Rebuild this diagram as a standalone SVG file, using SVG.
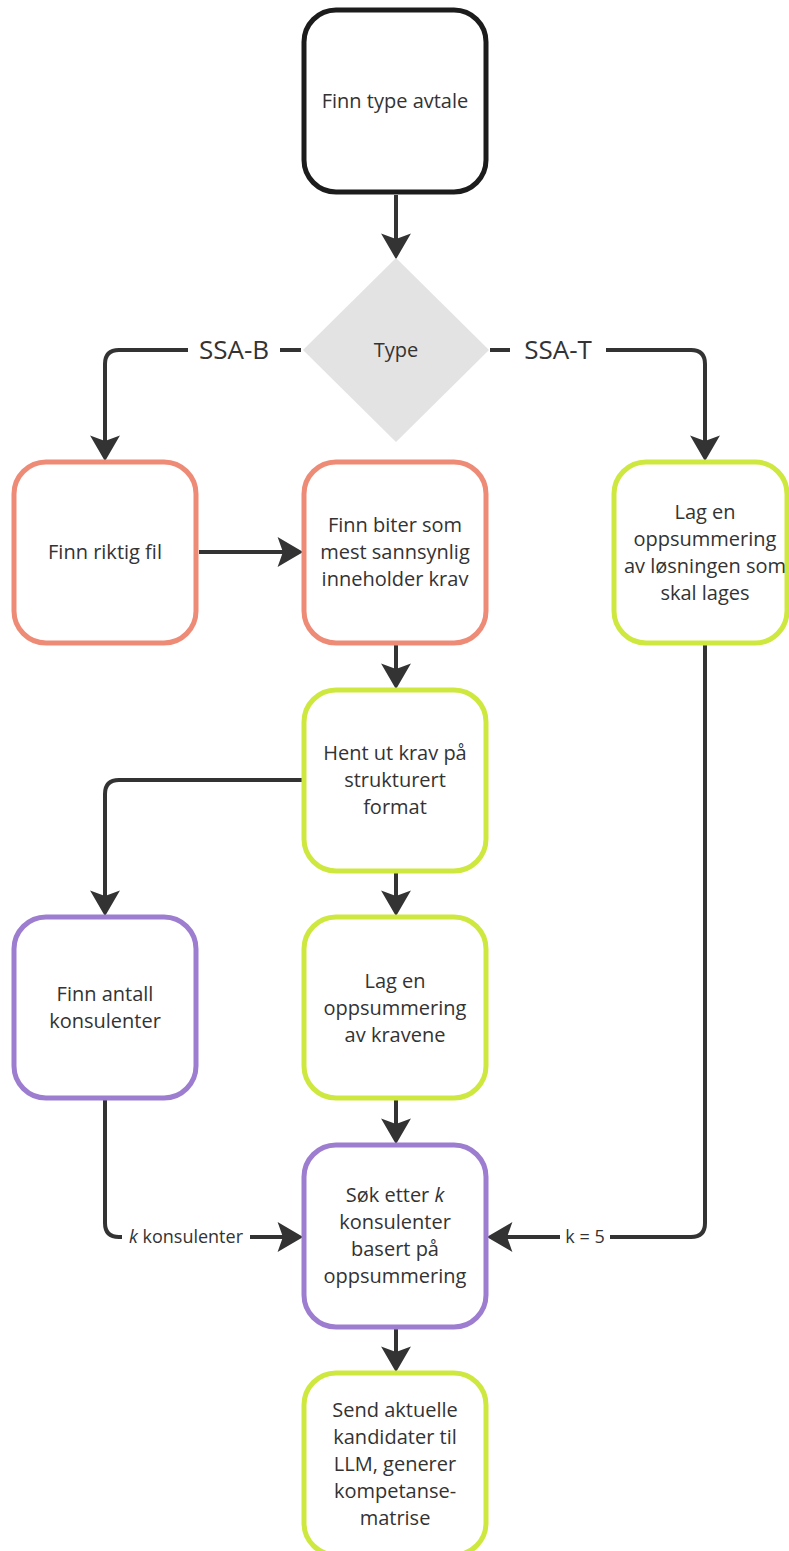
<svg xmlns="http://www.w3.org/2000/svg" width="789" height="1551" viewBox="0 0 789 1551">
  <style>
    .node { fill: #ffffff; stroke-width: 5; }
    .start { stroke: #1c1c1c; }
    .red { stroke: #ee8b77; }
    .green { stroke: #cfe83f; }
    .purple { stroke: #9d7dd0; }
    .txt { font-family: "Open Sans", "Liberation Sans", sans-serif; font-size: 20px; fill: #333333; text-anchor: middle; }
    .lbl { font-family: "Open Sans", "Liberation Sans", sans-serif; fill: #333333; text-anchor: middle; }
    .edge { fill: none; stroke: #333333; stroke-width: 4; marker-end: url(#arrow); }
    .gap { fill: #ffffff; }
  </style>
  <defs>
    <marker id="arrow" markerUnits="userSpaceOnUse" markerWidth="30" markerHeight="32" viewBox="0 -15 26 30" refX="6" refY="0" orient="auto">
      <path d="M0,-14 L24,0 L0,14 L5,0 Z" fill="#333333"/>
    </marker>
  </defs>
  <rect width="789" height="1551" fill="#ffffff"/>

  <!-- connectors -->
  <g id="connectors">
    <path class="edge" d="M396 195 V240"/>
    <path class="edge" d="M301 350 H119 Q105 350 105 364 V442"/>
    <path class="edge" d="M490 350 H691 Q705 350 705 364 V442"/>
    <path class="edge" d="M199 552 H284"/>
    <path class="edge" d="M396 645 V670"/>
    <path class="edge" d="M303 780 H119 Q105 780 105 794 V897"/>
    <path class="edge" d="M396 873 V897"/>
    <path class="edge" d="M396 1100 V1125"/>
    <path class="edge" d="M105 1100 V1223 Q105 1237 119 1237 H284"/>
    <path class="edge" d="M705 645 V1223 Q705 1237 691 1237 H506"/>
    <path class="edge" d="M396 1329 V1353"/>
    <!-- edge labels -->
    <rect class="gap" x="188" y="334" width="92" height="32"/>
    <text class="lbl" x="234" y="359" font-size="26">SSA-B</text>
    <rect class="gap" x="510" y="334" width="96" height="32"/>
    <text class="lbl" x="558" y="359" font-size="26">SSA-T</text>
    <rect class="gap" x="122" y="1224" width="128" height="26"/>
    <text class="lbl" x="186" y="1243" font-size="18"><tspan font-style="italic">k</tspan> konsulenter</text>
    <rect class="gap" x="560" y="1224" width="50" height="26"/>
    <text class="lbl" x="585" y="1243" font-size="18">k = 5</text>
  </g>

  <g id="n-start">
    <rect class="node start" x="304" y="10" width="182" height="182" rx="32"/>
    <text class="txt" x="395" y="108">Finn type avtale</text>
  </g>

  <g id="n-type">
    <polygon points="396,258 489,350 396,442 303,350" fill="#e3e3e3"/>
    <text class="txt" x="396" y="357">Type</text>
  </g>

  <g id="n-fil">
    <rect class="node red" x="14" y="462" width="182" height="181" rx="32"/>
    <text class="txt" x="105" y="559">Finn riktig fil</text>
  </g>

  <g id="n-biter">
    <rect class="node red" x="304" y="462" width="182" height="181" rx="32"/>
    <text class="txt" x="395"><tspan x="395" y="532">Finn biter som</tspan><tspan x="395" y="559">mest sannsynlig</tspan><tspan x="395" y="586">inneholder krav</tspan></text>
  </g>

  <g id="n-losning">
    <rect class="node green" x="614" y="462" width="173" height="181" rx="32"/>
    <text class="txt" x="705"><tspan x="705" y="519">Lag en</tspan><tspan x="705" y="546">oppsummering</tspan><tspan x="705" y="573">av løsningen som</tspan><tspan x="705" y="600">skal lages</tspan></text>
  </g>

  <g id="n-krav">
    <rect class="node green" x="304" y="690" width="182" height="181" rx="32"/>
    <text class="txt" x="395"><tspan x="395" y="760">Hent ut krav på</tspan><tspan x="395" y="787">strukturert</tspan><tspan x="395" y="814">format</tspan></text>
  </g>

  <g id="n-antall">
    <rect class="node purple" x="14" y="917" width="182" height="181" rx="32"/>
    <text class="txt" x="105"><tspan x="105" y="1001">Finn antall</tspan><tspan x="105" y="1028">konsulenter</tspan></text>
  </g>

  <g id="n-kravene">
    <rect class="node green" x="304" y="917" width="182" height="181" rx="32"/>
    <text class="txt" x="395"><tspan x="395" y="988">Lag en</tspan><tspan x="395" y="1015">oppsummering</tspan><tspan x="395" y="1042">av kravene</tspan></text>
  </g>

  <g id="n-sok">
    <rect class="node purple" x="304" y="1145" width="182" height="182" rx="32"/>
    <text class="txt" x="395"><tspan x="395" y="1202">Søk etter <tspan font-style="italic">k</tspan></tspan><tspan x="395" y="1229">konsulenter</tspan><tspan x="395" y="1256">basert på</tspan><tspan x="395" y="1283">oppsummering</tspan></text>
  </g>

  <g id="n-send">
    <rect class="node green" x="304" y="1373" width="182" height="182" rx="32"/>
    <text class="txt" x="395"><tspan x="395" y="1417">Send aktuelle</tspan><tspan x="395" y="1444">kandidater til</tspan><tspan x="395" y="1471">LLM, generer</tspan><tspan x="395" y="1498">kompetanse-</tspan><tspan x="395" y="1525">matrise</tspan></text>
  </g>
</svg>
